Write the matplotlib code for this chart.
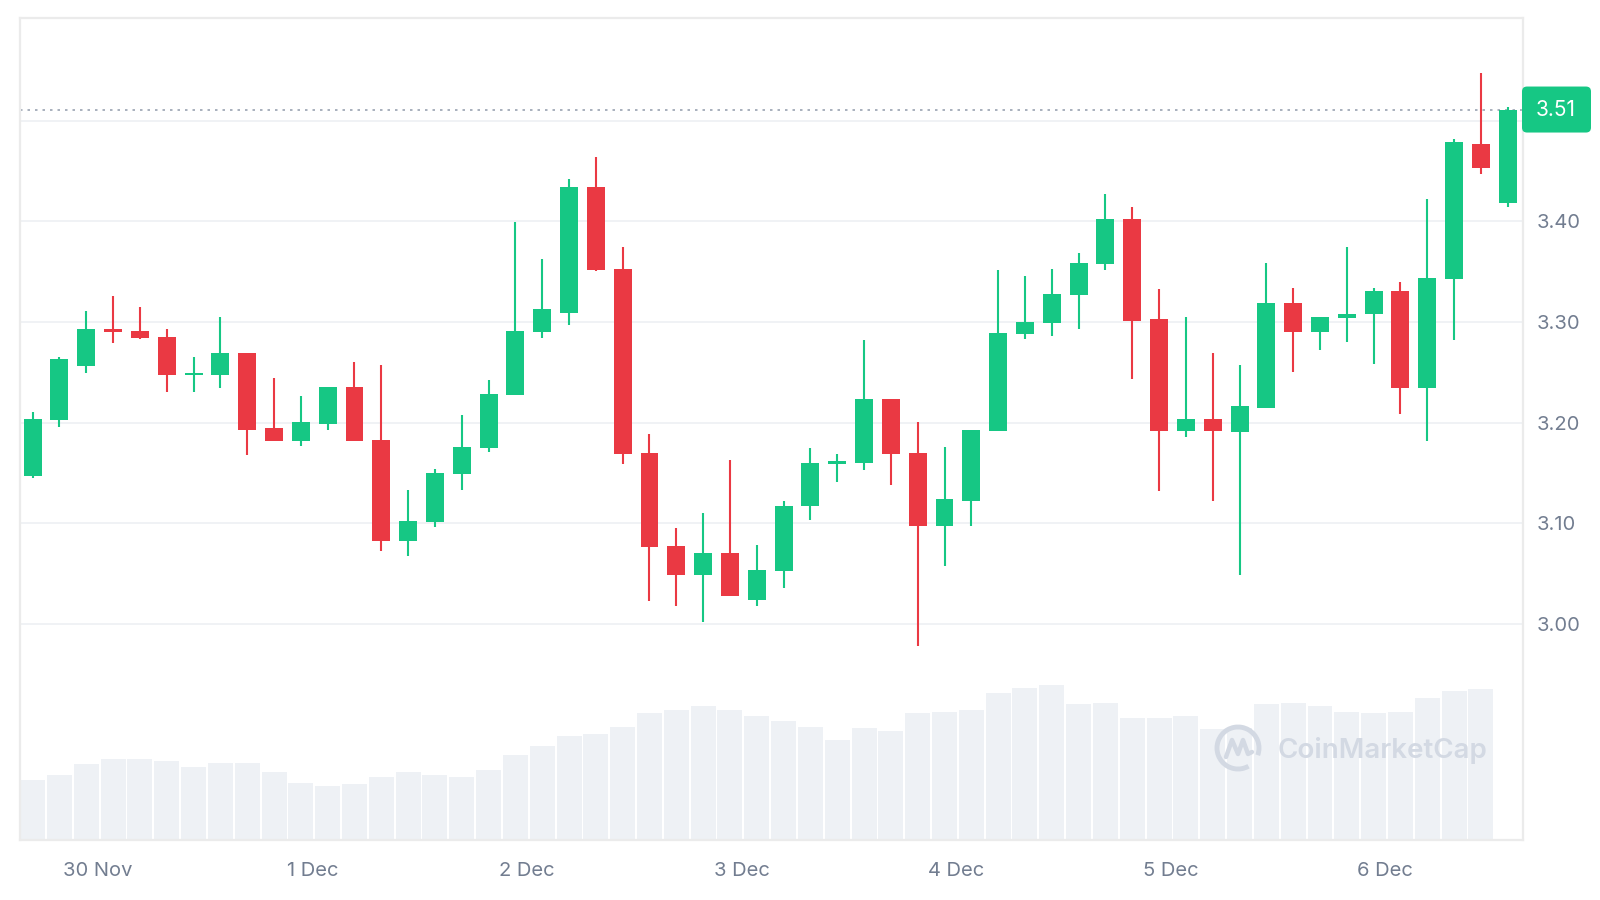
import matplotlib
matplotlib.use("Agg")
import matplotlib.pyplot as plt
from matplotlib.patches import FancyBboxPatch, Arc

plt.rcParams['font.family'] = ['Inter', 'DejaVu Sans']

# 3-hour candles, 29 Nov evening -> 6 Dec
opens = [3.147, 3.203, 3.256, 3.293, 3.291, 3.285, 3.247, 3.247, 3.269, 3.195,
         3.182, 3.199, 3.235, 3.183, 3.083, 3.101, 3.149, 3.175, 3.228, 3.290,
         3.309, 3.434, 3.353, 3.170, 3.078, 3.049, 3.071, 3.024, 3.053, 3.117,
         3.159, 3.160, 3.224, 3.170, 3.097, 3.122, 3.192, 3.288, 3.299, 3.327,
         3.358, 3.402, 3.303, 3.192, 3.204, 3.191, 3.215, 3.319, 3.290, 3.304,
         3.308, 3.331, 3.234, 3.343, 3.477, 3.418]
highs = [3.211, 3.265, 3.311, 3.326, 3.315, 3.293, 3.265, 3.305, 3.269, 3.244,
         3.227, 3.235, 3.260, 3.257, 3.133, 3.154, 3.208, 3.242, 3.399, 3.363,
         3.442, 3.464, 3.374, 3.189, 3.095, 3.110, 3.163, 3.079, 3.122, 3.175,
         3.169, 3.282, 3.224, 3.201, 3.176, 3.193, 3.352, 3.346, 3.353, 3.369,
         3.427, 3.414, 3.333, 3.305, 3.269, 3.257, 3.359, 3.334, 3.305, 3.374,
         3.334, 3.340, 3.422, 3.482, 3.547, 3.514]
lows = [3.145, 3.196, 3.249, 3.279, 3.283, 3.230, 3.230, 3.234, 3.168, 3.182,
        3.177, 3.193, 3.182, 3.073, 3.068, 3.096, 3.133, 3.171, 3.228, 3.284,
        3.297, 3.351, 3.159, 3.023, 3.018, 3.002, 3.028, 3.018, 3.036, 3.103,
        3.141, 3.153, 3.138, 2.978, 3.058, 3.097, 3.192, 3.283, 3.286, 3.293,
        3.352, 3.243, 3.132, 3.186, 3.122, 3.049, 3.215, 3.250, 3.272, 3.280,
        3.258, 3.209, 3.182, 3.282, 3.447, 3.414]
closes = [3.204, 3.263, 3.293, 3.290, 3.284, 3.247, 3.248, 3.269, 3.193, 3.182,
          3.201, 3.235, 3.182, 3.083, 3.102, 3.150, 3.176, 3.229, 3.291, 3.313,
          3.434, 3.352, 3.169, 3.077, 3.049, 3.071, 3.028, 3.054, 3.117, 3.160,
          3.161, 3.224, 3.169, 3.097, 3.124, 3.193, 3.289, 3.300, 3.328, 3.359,
          3.402, 3.301, 3.192, 3.204, 3.192, 3.217, 3.319, 3.290, 3.305, 3.308,
          3.331, 3.234, 3.344, 3.479, 3.453, 3.511]
# volume (relative units), last candle has no bar yet
volume = [60, 65, 76, 81, 81, 79, 73, 77, 77, 68, 57, 54, 56, 63, 68, 65, 63, 70,
          85, 94, 104, 106, 113, 127, 130, 134, 130, 124, 119, 113, 100, 112, 109,
          127, 128, 130, 147, 152, 155, 136, 137, 122, 122, 124, 111, 112, 136, 137,
          134, 128, 127, 128, 142, 149, 151]

day_labels = ["30 Nov", "1 Dec", "2 Dec", "3 Dec", "4 Dec", "5 Dec", "6 Dec"]
day_pos = [2.43 + 8 * d for d in range(len(day_labels))]
price_ticks = [3.00, 3.10, 3.20, 3.30, 3.40]

GREEN = "#16c784"
RED = "#ea3943"
GRID = "#eff1f4"
TXT = "#727d90"

W, H = 1600, 900
fig = plt.figure(figsize=(16, 9), dpi=100)
fig.patch.set_facecolor("white")

pos = [20 / W, 60 / H, 1503 / W, 822 / H]
xlim = (-0.472, 55.57)

# volume underneath
axv = fig.add_axes(pos, zorder=0)
axv.bar(range(len(volume)), volume, width=0.93, color="#eef1f5", linewidth=0)
axv.set_xlim(*xlim)
axv.set_ylim(0, max(volume) * 822 / 155)
axv.axis("off")

ax = fig.add_axes(pos, zorder=1)
ax.patch.set_alpha(0)
ax.set_xlim(*xlim)
ax.set_ylim(2.7856, 3.6019)

for t in price_ticks + [3.50]:
    ax.axhline(t, color=GRID, lw=1.3, zorder=0)

# candles
x = list(range(len(opens)))
colors = [GREEN if c >= o else RED for o, c in zip(opens, closes)]
ax.vlines(x, lows, highs, colors=colors, lw=1.5, zorder=2)
bottoms = [min(o, c) for o, c in zip(opens, closes)]
heights = [max(abs(c - o), 0.0025) for o, c in zip(opens, closes)]
ax.bar(x, heights, bottom=bottoms, width=0.67, color=colors, linewidth=0, zorder=3)

# current price dotted line
ax.axhline(closes[-1], color="#9aa3b2", lw=1.2, ls=(0, (1.5, 3)), zorder=1)

ax.set_xticks(day_pos)
ax.set_xticklabels(day_labels)
ax.yaxis.tick_right()
ax.set_yticks(price_ticks)
ax.set_yticklabels([f"{t:.2f}" for t in price_ticks])
ax.tick_params(axis="both", length=0, labelsize=14.5, labelcolor=TXT)
ax.tick_params(axis="x", pad=16)
ax.tick_params(axis="y", pad=10)
for s in ax.spines.values():
    s.set_color("#ebebeb")
    s.set_linewidth(1.6)

# overlay in pixel coords for price tag and watermark
ov = fig.add_axes([0, 0, 1, 1], zorder=5)
ov.set_xlim(0, W)
ov.set_ylim(0, H)
ov.axis("off")

fig.canvas.draw()
_, py = ax.transData.transform((0, closes[-1]))
tag = FancyBboxPatch((1522, py - 23), 69, 46, boxstyle="round,pad=0,rounding_size=5",
                     fc=GREEN, ec="none")
ov.add_patch(tag)
ov.text(1556, py, f"{closes[-1]:.2f}", color="white", fontsize=15, ha="center", va="center")

# CoinMarketCap watermark
wm = "#d3d9e3"
ov.add_patch(Arc((1238, 152), 42, 42, theta1=-20, theta2=300, color=wm, lw=3.5))
ov.plot([1226, 1232, 1238, 1243, 1248, 1252], [143, 160, 146, 160, 146, 148],
        color=wm, lw=3.2, solid_capstyle="round", solid_joinstyle="round")
ov.text(1278, 150, "CoinMarketCap", color=wm, fontsize=20, fontweight="semibold",
        ha="left", va="center")

fig.savefig("out.png", dpi=100)
